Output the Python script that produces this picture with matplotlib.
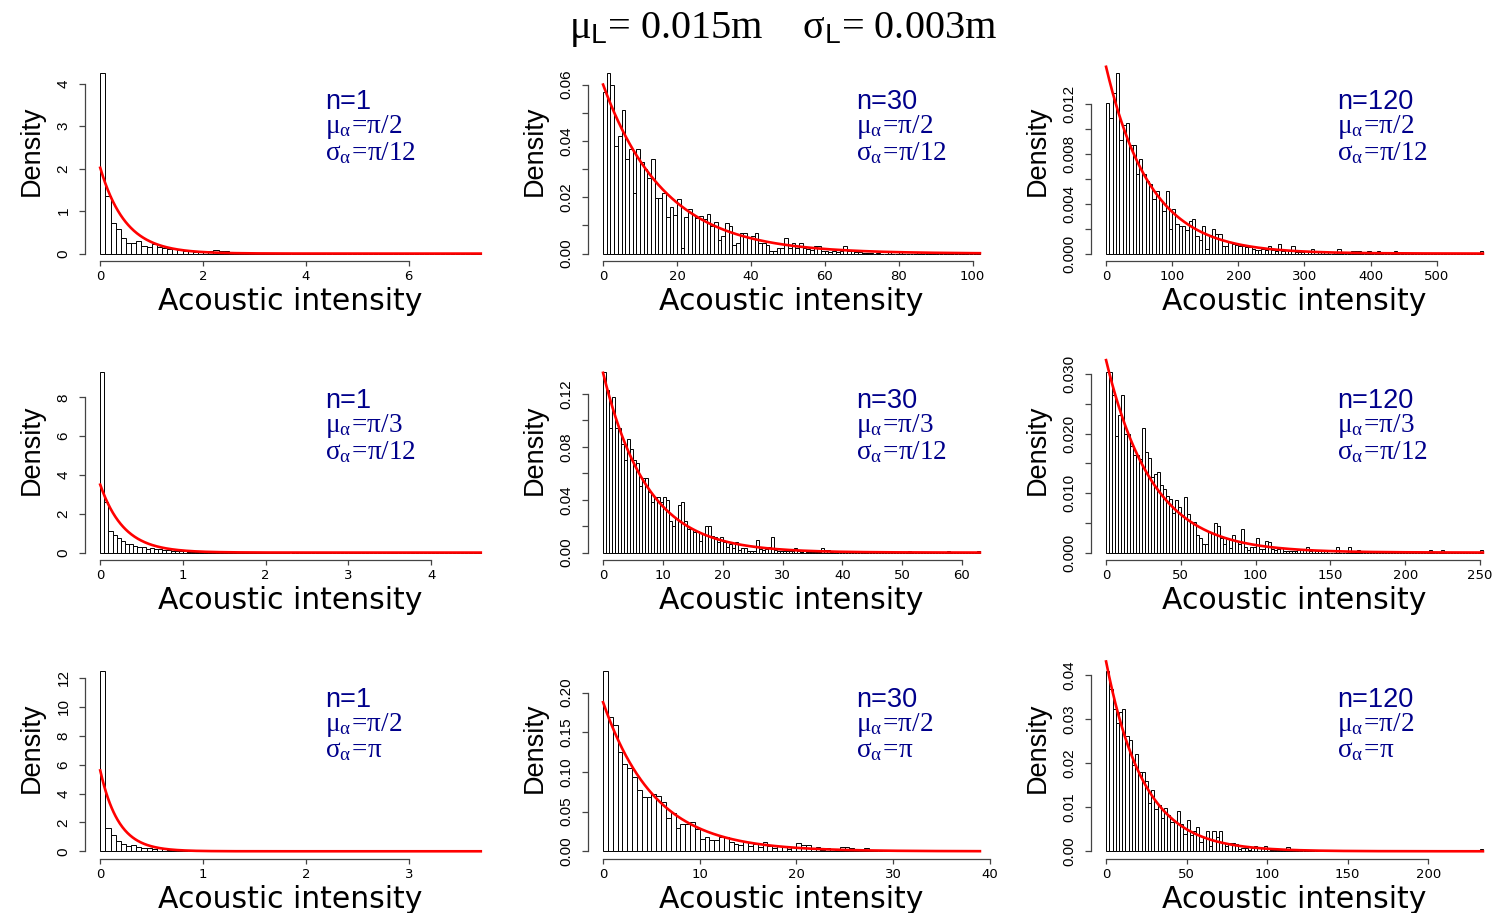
import numpy as np
import matplotlib
matplotlib.use("Agg")
import matplotlib.pyplot as plt
from matplotlib.transforms import offset_copy

plt.rcParams['font.family'] = ['DejaVu Sans']
plt.rcParams['mathtext.fontset'] = 'custom'
plt.rcParams['mathtext.rm'] = 'Liberation Serif'
plt.rcParams['mathtext.it'] = 'Liberation Serif:italic'
plt.rcParams['mathtext.sf'] = 'Liberation Sans'

# density of each histogram bar (bins start at 0)
dens_1 = [4.25, 1.35, 0.73, 0.57, 0.37, 0.25, 0.25, 0.29, 0.18, 0.15,
          0.22, 0.15, 0.12, 0.11, 0.10, 0.08, 0.06, 0.05, 0.04, 0.03,
          0.05, 0.07, 0.08, 0.07, 0.06, 0.02, 0.02, 0.04, 0.03, 0.02,
          0.02, 0.01, 0.01, 0.01, 0, 0.01, 0, 0, 0.01, 0,
          0.02, 0.02, 0.01, 0, 0, 0, 0.02, 0, 0, 0,
          0, 0, 0, 0, 0, 0.01, 0, 0, 0, 0,
          0, 0, 0, 0, 0, 0, 0, 0, 0, 0, 0, 0, 0, 0.01]
dens_2 = [.0574, .0641, .0598, .0381, .0417, .0509, .0334, .0373, .0214, .0372,
          .0326, .0302, .0267, .0334, .0196, .0196, .0214, .0131, .0167, .0137,
          .0195, .0019, .0131, .0158, .0137, .0126, .0133, .0122, .0139, .0098,
          .0111, .0047, .0064, .0110, .0098, .0030, .0037, .0074, .0074, .0060,
          .0064, .0074, .0039, .0038, .0031, .0009, .0009, .0019, .0019, .0054,
          .0021, .0038, .0021, .0037, .0021, .0017, .0013, .0028, .0028, .0010,
          .0010, .0007, .0010, .0007, .0010, .0028, .0010, .0008, .0005, .0005,
          .0003, .0003, .0003, 0, .0003, 0, 0, .0007, 0, 0,
          .0006, 0, 0, 0, 0, .0006, 0, 0, .0006, .0006,
          0, 0, 0, .0006, 0, 0, 0, .0006, 0, 0, 0, .0006]
dens_3 = [.0121, .0109, .0129, .0145, .0091, .0103, .0105, .0087, .0087, .0064,
          .0076, .0064, .0058, .0056, .0044, .0050, .0043, .0034, .0050, .0020,
          .0036, .0024, .0022, .0022, .0019, .0026, .0028, .0014, .0011, .0022,
          .0004, .0015, .0020, .0016, .0016, .0006, .0006, .0009, .0008, .0007,
          .0006, .0006, .0005, .0005, .0004, .0003, .0003, .0004, .0003, .0006,
          .0003, .0002, .0008, .0002, .0003, .0002, .0006, .0001, .0001, .0001,
          .0002, .0001, .0004, .0001, 0, .0001, .0001, 0, 0, .0001,
          .0004, 0, 0, 0, .0002, .0002, .0002, 0, 0, .0002,
          0, 0, .0002, 0, 0, 0, 0, .0002, 0, 0,
          0, 0, 0, 0, 0, 0, 0, 0, 0, 0,
          0, 0, 0, 0, 0, 0, 0, 0, 0, 0,
          0, 0, 0, .0002]
dens_4 = [9.3, 2.6, 1.09, 0.93, 0.74, 0.62, 0.43, 0.45, 0.34, 0.31,
          0.28, 0.21, 0.22, 0.19, 0.16, 0.14, 0.12, 0.10, 0.09, 0.07,
          0.06, 0.05, 0.05, 0.04, 0.03, 0.03, 0.02, 0.02, 0.06, 0.06,
          0.02, 0.02, 0.04, 0.04, 0.01, 0.01, 0.01, 0.01, 0.01, 0.01,
          0.03, 0.03, 0.01, 0, 0.01, 0, 0, 0, 0, 0.01,
          0, 0, 0, 0.04, 0.04, 0, 0, 0, 0, 0,
          0, 0.01, 0, 0, 0, 0, 0, 0, 0, 0,
          0.01, 0, 0, 0, 0, 0, 0, 0, 0, 0,
          0, 0, 0, 0, 0, 0, 0, 0, 0, 0,
          0, 0.01]
dens_5 = [.1366, .1228, .0946, .1180, .0946, .0946, .0820, .0702, .0863, .0782,
          .0702, .0677, .0506, .0564, .0564, .0455, .0380, .0418, .0418, .0380,
          .0420, .0397, .0242, .0204, .0259, .0360, .0380, .0236, .0179, .0179,
          .0153, .0166, .0090, .0138, .0199, .0199, .0128, .0116, .0083, .0116,
          .0078, .0043, .0065, .0033, .0078, .0022, .0038, .0033, .0015, .0013,
          .0015, .0098, .0028, .0020, .0025, .0040, .0116, .0022, .0015, .0010,
          .0010, .0010, .0010, .0010, .0035, .0010, .0008, .0015, .0008, .0005,
          .0005, .0005, .0003, .0035, .0020, .0020, .0003, .0015, 0, 0,
          0, 0, 0, 0, 0, 0, 0, .0015, 0, 0,
          0, 0, 0, 0, 0, 0, 0, 0, 0, 0,
          0, 0, .0013, 0, 0, 0, 0, 0, 0, 0,
          0, 0, 0, 0, 0, .0015, 0, 0, 0, 0,
          0, 0, 0, 0, 0, .0015]
dens_6 = [.0304, .0304, .0265, .0197, .0232, .0265, .0200, .0200, .0179, .0165,
          .0165, .0158, .0210, .0169, .0160, .0127, .0133, .0135, .0113, .0107,
          .0096, .0090, .0067, .0089, .0076, .0063, .0094, .0065, .0051, .0051,
          .0030, .0025, .0014, .0014, .0035, .0033, .0049, .0044, .0024, .0014,
          .0023, .0007, .0030, .0020, .0014, .0040, .0009, .0004, .0009, .0009,
          .0024, .0006, .0006, .0020, .0017, .0006, .0004, .0006, .0007, .0002,
          .0002, .0002, .0002, .0002, .0004, .0004, 0, .0009, .0003, .0004,
          .0003, .0003, .0003, .0003, 0, 0, 0, .0009, 0, 0,
          0, .0009, .0002, .0002, .0004, 0, 0, 0, 0, 0,
          0, 0, 0, 0, 0, 0, 0, 0, 0, 0,
          0, 0, 0, 0, 0, 0, 0, 0, .0004, 0,
          0, 0, .0004, 0, 0, 0, 0, 0, 0, 0,
          0, 0, 0, 0, 0, .0004]
dens_7 = [12.5, 1.61, 1.15, 0.74, 0.51, 0.34, 0.46, 0.28, 0.21, 0.20,
          0.16, 0.21, 0.14, 0.10, 0.10, 0.08, 0.05, 0.05, 0.03, 0.07,
          0.03, 0.03, 0.02, 0.02, 0.02, 0.02, 0.01, 0.02, 0.01, 0.05,
          0.05, 0.02, 0.01, 0.04, 0.01, 0, 0.01, 0, 0.01, 0,
          0.01, 0, 0, 0, 0, 0, 0, 0, 0, 0.01,
          0, 0, 0, 0, 0, 0, 0, 0, 0, 0,
          0, 0, 0, 0, 0, 0, 0, 0, 0, 0,
          0, 0, 0, 0.02]
dens_8 = [.2277, .1697, .1597, .1256, .1100, .1050, .0933, .0777, .0680, .0680,
          .0718, .0700, .0618, .0420, .0483, .0294, .0345, .0345, .0366, .0282,
          .0155, .0176, .0143, .0143, .0180, .0180, .0122, .0088, .0080, .0113,
          .0063, .0092, .0050, .0122, .0071, .0042, .0071, .0055, .0029, .0050,
          .0100, .0084, .0080, .0038, .0050, .0021, .0040, .0029, .0021, .0050,
          .0055, .0038, .0013, .0021, .0038, .0021, .0008, .0008, .0008, .0008,
          .0013, .0008, .0013, .0004, .0004, 0, 0, .0013, 0, 0,
          0, 0, 0, 0, 0, 0, 0, .0017]
dens_9 = [.0410, .0369, .0322, .0292, .0316, .0322, .0261, .0252, .0195, .0221,
          .0179, .0179, .0160, .0110, .0140, .0095, .0104, .0076, .0098, .0083,
          .0066, .0066, .0091, .0061, .0039, .0070, .0036, .0045, .0055, .0020,
          .0030, .0045, .0011, .0045, .0033, .0045, .0019, .0013, .0019, .0019,
          .0016, .0005, .0008, .0007, .0003, .0008, .0013, .0009, .0008, .0011,
          .0007, .0004, .0004, .0003, .0003, .0003, .0010, .0003, .0003, .0003,
          0, 0, .0003, .0003, 0, 0, .0003, 0, 0, 0,
          .0003, 0, 0, .0004, .0004, 0, 0, 0, 0, 0,
          0, 0, 0, 0, 0, 0, 0, 0, 0, 0,
          0, 0, 0, 0, 0, 0, 0, 0, 0, 0,
          0, 0, 0, 0, 0, 0, 0, 0, 0, 0,
          0, 0, 0, 0, 0, 0, .0005]
dens = [dens_1, dens_2, dens_3, dens_4, dens_5, dens_6, dens_7, dens_8, dens_9]

bin_width = [0.1, 1, 5, 0.05, 0.5, 2, 0.05, 0.5, 2]
# rate of the fitted exponential density (red curve starts at this height)
exp_rate = [2.02, 0.060, 0.0150, 3.5, 0.136, 0.0324, 5.6, 0.188, 0.0431]

n_txt = ['1', '30', '120'] * 3
mu_txt = ['2', '2', '2', '3', '3', '3', '2', '2', '2']
sd_txt = ['/12'] * 6 + [''] * 3

x_ticks = [[0, 2, 4, 6], [0, 20, 40, 60, 80, 100], [0, 100, 200, 300, 400, 500],
           [0, 1, 2, 3, 4], [0, 10, 20, 30, 40, 50, 60], [0, 50, 100, 150, 200, 250],
           [0, 1, 2, 3], [0, 10, 20, 30, 40], [0, 50, 100, 150, 200]]
y_ticks = [[0, 1, 2, 3, 4],
           [0, .01, .02, .03, .04, .05, .06],
           [0, .002, .004, .006, .008, .010, .012],
           [0, 2, 4, 6, 8],
           [0, .02, .04, .06, .08, .10, .12],
           [0, .005, .010, .015, .020, .025, .030],
           [0, 2, 4, 6, 8, 10, 12],
           [0, .05, .10, .15, .20],
           [0, .01, .02, .03, .04]]
y_labels = [['0', '1', '2', '3', '4'],
            ['0.00', '', '0.02', '', '0.04', '', '0.06'],
            ['0.000', '', '0.004', '', '0.008', '', '0.012'],
            ['0', '2', '4', '6', '8'],
            ['0.00', '', '0.04', '', '0.08', '', '0.12'],
            ['0.000', '', '0.010', '', '0.020', '', '0.030'],
            ['0', '2', '4', '6', '8', '10', '12'],
            ['0.00', '0.05', '0.10', '0.15', '0.20'],
            ['0.00', '0.01', '0.02', '0.03', '0.04']]

W, H = 1501, 913
fig = plt.figure(figsize=(W / 100, H / 100), dpi=100)
col_left = [85, 588, 1091]
col_width = [411, 407, 407]
row_top = [65.8, 364.8, 663.5]
ax_h = 195
txt_dx = [240, 268, 246]
axis_col = '#444444'
text_col = '#00008B'

for i in range(9):
    r, c = divmod(i, 3)
    ax = fig.add_axes([col_left[c] / W, 1 - (row_top[r] + ax_h) / H,
                       col_width[c] / W, ax_h / H])
    h = np.array(dens[i])
    w = bin_width[i]
    edges = np.arange(len(h)) * w
    ax.bar(edges, h, width=w, align='edge', color='white',
           edgecolor='black', linewidth=0.7)
    xmax = len(h) * w
    xs = np.linspace(0, xmax, 600)
    ax.plot(xs, exp_rate[i] * np.exp(-exp_rate[i] * xs), color='red', lw=1.9,
            clip_on=False)
    ymax = h.max()
    ax.set_xlim(-0.04 * xmax, 1.04 * xmax)
    ax.set_ylim(-0.04 * ymax, 1.04 * ymax)

    for s in ['top', 'right']:
        ax.spines[s].set_visible(False)
    ax.spines['left'].set_bounds(y_ticks[i][0], y_ticks[i][-1])
    ax.spines['bottom'].set_bounds(x_ticks[i][0], x_ticks[i][-1])
    for s in ['left', 'bottom']:
        ax.spines[s].set_linewidth(0.9)
        ax.spines[s].set_color(axis_col)

    ax.set_xticks(x_ticks[i])
    ax.set_xticklabels([str(v) for v in x_ticks[i]], fontsize=9.5)
    ax.set_yticks(y_ticks[i])
    ax.set_yticklabels(y_labels[i], rotation=90, va='center',
                       fontfamily='Liberation Sans', fontsize=11)
    ax.tick_params(axis='x', length=3.6, width=0.9, pad=3.0, color=axis_col)
    ax.tick_params(axis='y', length=4.3, width=0.9, pad=6, color=axis_col)

    ax.text(0.5, 0, 'Acoustic intensity', ha='center', va='baseline',
            fontsize=21.5,
            transform=offset_copy(ax.transAxes, fig, x=0, y=-49, units='dots'))
    ax.text(0, 0.5, 'Density', ha='center', va='baseline', rotation=90,
            rotation_mode='anchor', fontfamily='Liberation Sans', fontsize=19.5,
            transform=offset_copy(ax.transAxes, fig, x=-46, y=13, units='dots'))

    # three-line note; va='baseline' pins the last line's baseline
    note = ('n=%s' % n_txt[i] + '\n'
            + r'$\mathrm{\mu_{\alpha}\!=\!\pi/%s}$' % mu_txt[i] + '\n'
            + r'$\mathrm{\sigma_{\alpha}\!=\!\pi%s}$' % sd_txt[i])
    ax.text(0, 1, note, color=text_col, fontsize=19.5, va='baseline',
            ha='left', linespacing=0.92, fontfamily='Liberation Sans',
            transform=offset_copy(ax.transAxes, fig, x=txt_dx[c], y=-94,
                                  units='dots'))

fig.text(783 / W, 1 - 38 / H,
         r'$\mathrm{\mu}_{\mathsf{L}}$= 0.015m    $\mathrm{\sigma}_{\mathsf{L}}$= 0.003m',
         ha='center', va='baseline', fontsize=29, fontfamily='Liberation Serif')

fig.savefig('out.png', dpi=100)
